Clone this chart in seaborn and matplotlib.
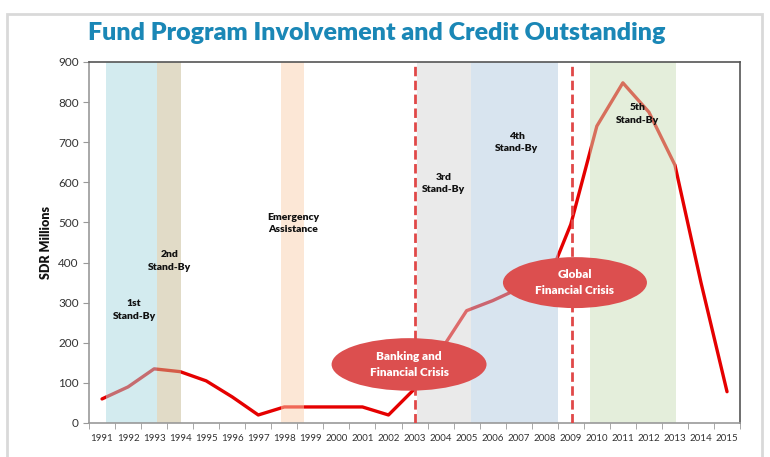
import pandas as pd
import matplotlib.pyplot as plt
import seaborn as sns
from matplotlib.patches import Ellipse, Rectangle

# Data
years = [str(y) for y in range(1991, 2016)]
credit = [60, 90, 135, 128, 105, 65, 20, 40, 40, 40, 40, 20, 85,
          180, 280, 305, 335, 335, 495, 740, 848, 775, 643, 350, 78]

# program periods (year fractions) and their labels
programs = ["1st\nStand-By", "2nd\nStand-By", "Emergency\nAssistance",
            "3rd\nStand-By", "4th\nStand-By", "5th\nStand-By"]
prog_start = [1991.15, 1993.12, 1997.87, 2003.10, 2005.17, 2009.74]
prog_end = [1993.12, 1994.02, 1998.74, 2005.17, 2008.51, 2013.04]
crisis_years = [2003.03, 2009.04]
crisis_labels = ["Banking and\nFinancial Crisis", "Global\nFinancial Crisis"]

df = pd.DataFrame({"Year": years, "Credit": credit})

sns.set_style("white")
plt.rcParams["font.family"] = ["Lato", "DejaVu Sans"]

fig = plt.figure(figsize=(7.7, 4.57), dpi=100)
ax = fig.add_axes([0.1156, 0.0744, 0.8455, 0.79])

sns.lineplot(data=df, x="Year", y="Credit", color="#e50000", lw=2.4, ax=ax, zorder=1)

def pos(year):
    return year - 1991

# shaded program bands, drawn over the line so it looks faded inside them
band_colors = ["#a9d9e1", "#c5b991", "#fbd1af", "#d7d7d7", "#b3cbe1", "#cbdfb9"]
label_xy = [(1.23, 282), (2.61, 404), (7.35, 497), (13.11, 597), (15.92, 699), (20.56, 770)]
for s, e, c, lab, (lx, ly) in zip(prog_start, prog_end, band_colors, programs, label_xy):
    ax.axvspan(pos(s), pos(e), color=c, alpha=0.5, lw=0, zorder=2)
    ax.text(lx, ly, lab, ha="center", va="center", fontsize=7.5,
            fontweight="heavy", color="#111111", zorder=5, linespacing=1.5)

for cy in crisis_years:
    ax.axvline(pos(cy), color="#e04848", lw=2, ls=(0, (3.4, 1.6)), zorder=3)

# crisis bubbles
ell_xy = [(11.79, 146), (18.16, 350)]
ell_wh = [(5.95, 131), (5.53, 127)]
for (ex, ey), (w, h), lab in zip(ell_xy, ell_wh, crisis_labels):
    ax.add_patch(Ellipse((ex, ey), w, h, facecolor="#dc4f4f", edgecolor="none", zorder=6))
    ax.text(ex, ey, lab, ha="center", va="center", fontsize=8.5, fontweight="heavy",
            color="white", zorder=7, linespacing=1.55)

ax.set_xlim(-0.5, 24.5)
ax.set_ylim(0, 900)
ax.set_yticks(range(0, 901, 100))
ax.set_xticks(range(25))
ax.set_xticklabels(years)
ax.set_xticks([i - 0.5 for i in range(26)], minor=True)
ax.tick_params(axis="x", which="major", length=0, labelsize=7, pad=8, colors="#333333")
ax.tick_params(axis="x", which="minor", length=4, color="#999999", direction="out", bottom=True)
ax.tick_params(axis="y", length=4, color="#999999", direction="out", left=True,
               labelsize=8.5, colors="#333333")
ax.set_xlabel("")
ax.set_ylabel("SDR Millions", fontsize=9, fontweight="heavy", color="#111111")

for side in ["left", "bottom"]:
    ax.spines[side].set_color("#999999")
for side in ["top", "right"]:
    ax.spines[side].set_color("#555555")
for sp in ax.spines.values():
    sp.set_linewidth(1.2)

fig.text(0.489, 0.928, "Fund Program Involvement and Credit Outstanding",
         ha="center", va="center", fontsize=18, fontweight="heavy", color="#1a87b6")

# light frame around the slide
fig.patches.append(Rectangle((0.009, -0.05), 0.981, 1.02, transform=fig.transFigure,
                             fill=False, edgecolor="#d9d9d9", lw=2))

fig.savefig("out.png", dpi=100)
